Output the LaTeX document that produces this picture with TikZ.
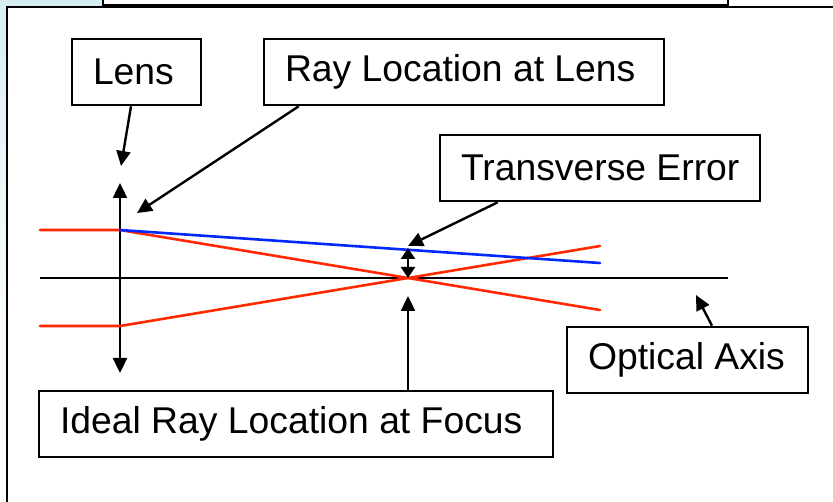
\documentclass[tikz,border=0pt]{standalone}
\usepackage{fontspec}
\setmainfont{Liberation Sans}
\usetikzlibrary{arrows.meta}
\definecolor{rayred}{RGB}{255,40,0}
\definecolor{rayblue}{RGB}{0,40,255}
\definecolor{paneltint}{RGB}{214,238,242}
\newcommand{\boxtext}[2]{\makebox[#1][l]{#2}}
\begin{document}
\begin{tikzpicture}[x=1pt,y=-1pt,
  label box/.style={draw,line width=2.6pt,inner xsep=21pt,inner ysep=0pt,
    minimum height=66pt,font=\fontsize{37.3}{42}\selectfont,anchor=center},
  pointer/.style={line width=2.4pt,-{Triangle[length=15pt,width=14pt]}},
  twoway/.style={line width=2.4pt,{Triangle[length=15pt,width=14pt]}-{Triangle[length=15pt,width=14pt]}},
  small twoway/.style={line width=2.4pt,{Triangle[length=11pt,width=14pt]}-{Triangle[length=11pt,width=14pt]}},
  ray/.style={line width=2.6pt,line cap=round},
  frame/.style={line width=2.8pt}]
  \useasboundingbox (0,0) rectangle (833,502);
  % tinted margin outside the slide frame
  \shade[top color=paneltint,bottom color=white,middle color=paneltint!25]
    (0,0) -- (103,0) -- (103,7) -- (7,7) -- (7,502) -- (0,502) -- cycle;
  % slide frame and the edge of the panel above it
  \draw[frame] (7,502) -- (7,7) -- (833,7);
  \draw[frame] (103,0) -- (103,5) -- (728,5) -- (728,0);

  % key points of the ray sketch
  \coordinate (axisL) at (40,278);
  \coordinate (axisR) at (728,278);
  \coordinate (lensTop) at (120,183);
  \coordinate (lensBot) at (120,373);
  \coordinate (hitTop) at (120,230);
  \coordinate (hitBot) at (120,326);
  \coordinate (inTop) at (40,230);
  \coordinate (inBot) at (40,326);
  \coordinate (focus) at (408,278);
  \coordinate (outTop) at (600,310);
  \coordinate (outBot) at (600,246);
  \coordinate (outBlue) at (600,263);
  \coordinate (errTop) at (408,248);
  \coordinate (lensTip) at (121,166);
  \coordinate (rayTip) at (137,213);
  \coordinate (errTip) at (408,246);
  \coordinate (axisTip) at (696,295);
  \coordinate (focusTip) at (408,296);

  % optical axis and lens
  \draw[line width=2.6pt] (axisL) -- (axisR);
  \draw[twoway] (lensTop) -- (lensBot);

  % rays
  \draw[ray,rayred] (inTop) -- (hitTop) -- (outTop);
  \draw[ray,rayred] (inBot) -- (hitBot) -- (outBot);
  \draw[ray,rayblue] (hitTop) -- (outBlue);

  % transverse error marker
  \draw[small twoway] (errTop) -- (focus);

  % labels
  \node[label box] (lens) at (136.5,72) {\boxtext{87pt}{Lens}};
  \node[label box] (raylens) at (464,72) {\boxtext{358pt}{Ray Location at Lens}};
  \node[label box] (terr) at (600,168) {\boxtext{278pt}{Transverse Error}};
  \node[label box] (oaxis) at (687.5,360) {\boxtext{199pt}{Optical Axis}};
  \node[label box] (ideal) at (296,424) {\boxtext{472pt}{Ideal Ray Location at Focus}};

  % pointers from the labels
  \draw[pointer] ([xshift=-5.5pt]lens.south) -- (lensTip);
  \draw[pointer] ([xshift=36pt]raylens.south west) -- (rayTip);
  \draw[pointer] ([xshift=59pt]terr.south west) -- (errTip);
  \draw[pointer] ([xshift=24.5pt]oaxis.north) -- (axisTip);
  \draw[pointer] (ideal.north -| focusTip) -- (focusTip);
\end{tikzpicture}
\end{document}
